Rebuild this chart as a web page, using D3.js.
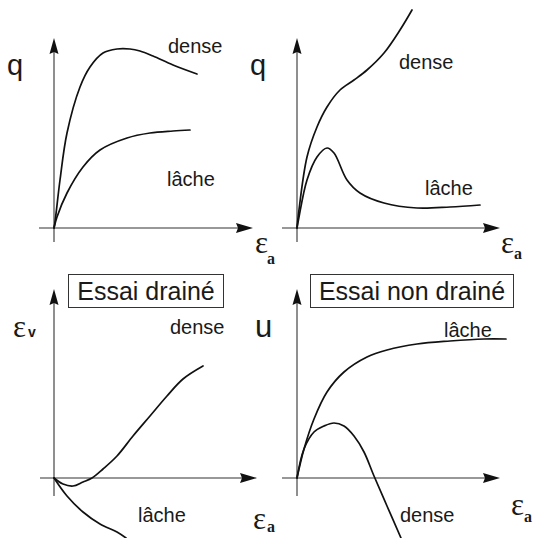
<!DOCTYPE html>
<html>
<head>
<meta charset="utf-8">
<script src="https://cdn.jsdelivr.net/npm/d3@7"></script>
<style>
  html, body { margin: 0; padding: 0; background: #fff; }
  svg { display: block; }
  text { fill: #1a1a1a; }
</style>
</head>
<body>
<svg id="chart" width="534" height="538"></svg>
<script>
// Axial strain (arbitrary units) vs response, one series per sand state.
// Drained test: deviator stress q
const qDrainedDense = [[0,0],[0.05,0.3],[0.3,2.4],[0.65,4.75],[1.3,7.05],[1.8,8.05],[2.45,8.75],[3.15,8.95],[3.8,8.95],[4.3,8.85],[4.95,8.6],[5.95,8.15],[7.15,7.7]];
const qDrainedLoose = [[0,0],[0.15,0.55],[0.65,1.75],[1.45,3.05],[2.3,3.9],[3.65,4.5],[4.8,4.75],[5.95,4.85],[6.8,4.9]];
// Undrained test: deviator stress q
const qUndrainedDense = [[0,0],[0.08,0.75],[0.5,3.55],[1,5.05],[1.5,6.05],[2.15,6.9],[2.85,7.4],[3.5,7.9],[4.35,8.75],[5.15,9.9],[5.75,10.9]];
const qUndrainedLoose = [[0,0],[0.1,0.55],[0.5,2.4],[1,3.55],[1.5,4.0],[1.85,3.75],[2.5,2.4],[3.15,1.75],[4.35,1.25],[6,1.0],[7.65,1.05],[9.15,1.15]];
// Drained test: volumetric strain εv
const evDense = [[0,0],[0.45,-0.3],[0.95,-0.4],[1.45,-0.2],[1.9,0],[2.45,0.45],[3.15,1.1],[3.95,2.1],[4.8,3.1],[5.65,4.1],[6.45,4.95],[7.45,5.6]];
const evLoose = [[0,0],[0.65,-0.9],[1.45,-1.7],[2.3,-2.3],[3.15,-2.7],[3.6,-3.0]];
// Undrained test: pore pressure u
const uLoose = [[0,0],[0.35,1.45],[0.85,2.95],[1.5,4.3],[2.35,5.3],[3.5,6.05],[4.5,6.4],[6,6.7],[7.65,6.85],[9.35,6.95],[10.45,6.95]];
const uDense = [[0,0],[0.35,1.45],[0.85,2.3],[1.35,2.6],[1.85,2.75],[2.35,2.6],[2.85,2.1],[3.35,1.3],[3.85,0.1],[4.5,-1.4],[5.2,-3.0]];

const stateLabels = ["dense", "lâche"];
const testTitles = ["Essai drainé", "Essai non drainé"];

const svg = d3.select("#chart");
const font = "'Liberation Sans', Arial, Helvetica, sans-serif";
const greek = "'Liberation Serif', 'Times New Roman', serif";

function panel(cfg) {
  const g = svg.append("g");
  const x = d3.scaleLinear().domain([0, 10]).range([cfg.ox, cfg.ox + 200]);
  const y = d3.scaleLinear().domain([0, 10]).range([cfg.oy, cfg.oy - 200]);

  // axes
  g.append("line")
    .attr("x1", x(0)).attr("x2", x(0))
    .attr("y1", y(cfg.yMin)).attr("y2", y(cfg.yMax) + 12)
    .attr("stroke", "#333").attr("stroke-width", 1.1);
  g.append("line")
    .attr("x1", x(cfg.xMin)).attr("x2", x(cfg.xMax) - 12)
    .attr("y1", y(0)).attr("y2", y(0))
    .attr("stroke", "#333").attr("stroke-width", 1.1);
  // arrowheads
  const ty = y(cfg.yMax), tx = x(cfg.xMax);
  g.append("path")
    .attr("d", `M${x(0)},${ty} L${x(0) + 4.5},${ty + 16} L${x(0)},${ty + 14} L${x(0) - 4.5},${ty + 16} Z`)
    .attr("fill", "#111");
  g.append("path")
    .attr("d", `M${tx},${y(0)} L${tx - 17},${y(0) - 5} L${tx - 15},${y(0)} L${tx - 17},${y(0) + 5} Z`)
    .attr("fill", "#111");

  const line = d3.line().x(d => x(d[0])).y(d => y(d[1])).curve(d3.curveCatmullRom.alpha(0.5));
  cfg.series.forEach(s => {
    g.append("path").attr("d", line(s)).attr("fill", "none")
      .attr("stroke", "#111").attr("stroke-width", 1.7)
      .attr("stroke-linejoin", "round").attr("stroke-linecap", "round");
  });
  return g;
}

function label(t, x, y, size, fam, extra) {
  const el = svg.append("text").attr("x", x).attr("y", y)
    .attr("font-family", fam || font).attr("font-size", size).text(t);
  if (extra) extra(el);
  return el;
}

function strainLabel(x, y, sub, subDx, subDy, subSize) {
  label("ε", x, y, 31, greek);
  label(sub, x + subDx, y + subDy, subSize, greek, el => el.attr("font-weight", "bold"));
}

// top-left: drained q
panel({ ox: 54, oy: 228, xMin: -0.75, xMax: 9.95, yMin: -0.7, yMax: 9.5, series: [qDrainedDense, qDrainedLoose] });
// top-right: undrained q
panel({ ox: 297, oy: 228, xMin: -0.75, xMax: 10.15, yMin: -0.7, yMax: 9.5, series: [qUndrainedDense, qUndrainedLoose] });
// bottom-left: drained εv
panel({ ox: 54, oy: 478, xMin: -0.7, xMax: 10.15, yMin: -0.9, yMax: 9.45, series: [evDense, evLoose] });
// bottom-right: undrained u
panel({ ox: 297, oy: 478, xMin: -0.75, xMax: 10.15, yMin: -0.9, yMax: 9.45, series: [uLoose, uDense] });

// axis titles
label("q", 7, 75, 29);
label("q", 250, 75, 29);
label("u", 255, 337, 31);
strainLabel(255, 253, "a", 12, 11, 16);
strainLabel(501, 253, "a", 13, 6, 16);
strainLabel(253, 529, "a", 14, 3, 16);
strainLabel(511, 515, "a", 13, 7, 16);
label("ε", 13, 337, 31, greek);
label("v", 28, 337, 14, font, el => el.attr("font-weight", "bold"));

// curve labels
label(stateLabels[0], 168, 53, 20);
label(stateLabels[1], 167, 186, 20);
label(stateLabels[0], 399, 69, 20);
label(stateLabels[1], 425, 195, 20);
label(stateLabels[0], 170, 334, 20);
label(stateLabels[1], 138, 522, 20);
label(stateLabels[1], 444, 337, 20);
label(stateLabels[0], 400, 522, 20);

// test titles in boxes
svg.append("rect").attr("x", 68.5).attr("y", 274.5).attr("width", 155).attr("height", 33)
  .attr("fill", "none").attr("stroke", "#333").attr("stroke-width", 1);
label(testTitles[0], 146, 300, 25, font, el => el.attr("text-anchor", "middle"));
svg.append("rect").attr("x", 310.5).attr("y", 274.5).attr("width", 203).attr("height", 33)
  .attr("fill", "none").attr("stroke", "#333").attr("stroke-width", 1);
label(testTitles[1], 412, 300, 25, font, el => el.attr("text-anchor", "middle"));
</script>
</body>
</html>
